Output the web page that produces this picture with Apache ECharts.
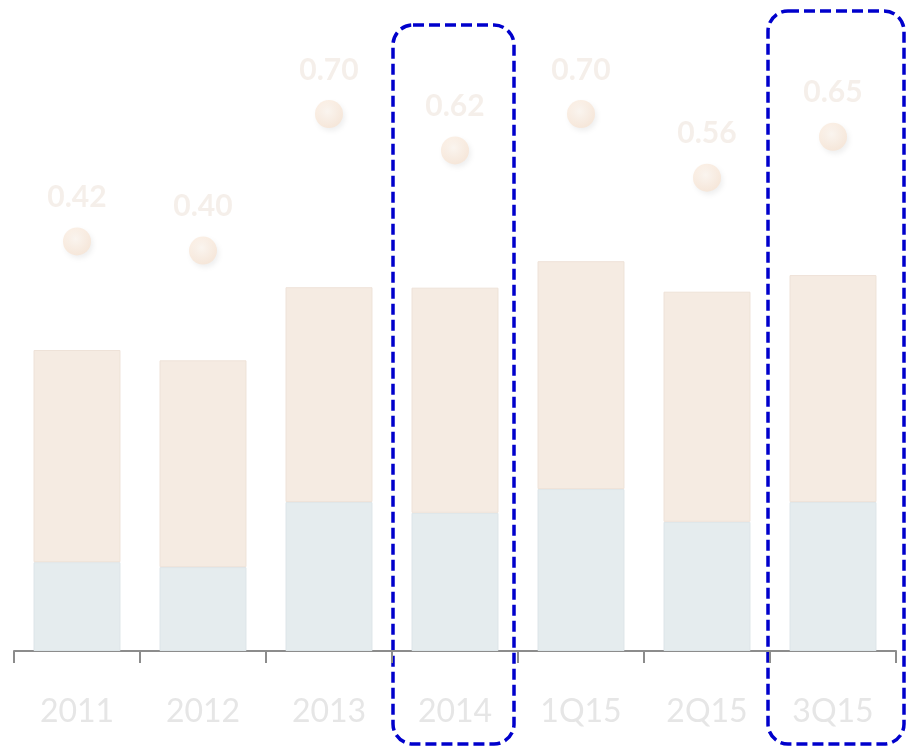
<!DOCTYPE html>
<html>
<head>
<meta charset="utf-8">
<script src="https://cdn.jsdelivr.net/npm/echarts@6/dist/echarts.min.js"></script>
<style>
html,body{margin:0;padding:0;background:#fff;}
#chart{width:906px;height:746px;}
</style>
</head>
<body>
<div id="chart"></div>
<script>
var categories = ['2011', '2012', '2013', '2014', '1Q15', '2Q15', '3Q15'];
var bottomValues = [1.98, 1.87, 3.32, 3.08, 3.61, 2.88, 3.32];
var topValues = [4.73, 4.61, 4.79, 5.02, 5.08, 5.13, 5.06];
var ratioValues = [0.42, 0.40, 0.70, 0.62, 0.70, 0.56, 0.65];
var ratioLabels = ['0.42', '0.40', '0.70', '0.62', '0.70', '0.56', '0.65'];

var chart = echarts.init(document.getElementById('chart'));
chart.setOption({
  animation: false,
  backgroundColor: '#ffffff',
  grid: { left: 14, right: 10, top: 23, bottom: 95 },
  xAxis: {
    type: 'category',
    data: categories,
    axisLine: { show: true, lineStyle: { color: '#8c8c8c', width: 2 } },
    axisTick: { show: true, length: 12, lineStyle: { color: '#8c8c8c', width: 2 } },
    axisLabel: {
      color: '#e6e6e6', fontFamily: 'Lato', fontSize: 32, margin: 45, lineHeight: 32
    }
  },
  yAxis: [
    { type: 'value', min: 0, max: 14, show: false, splitLine: { show: false } },
    { type: 'value', min: -0.48, max: 0.9, show: false, splitLine: { show: false } }
  ],
  series: [
    {
      type: 'bar', stack: 'total', barWidth: '69%', data: bottomValues,
      itemStyle: { color: '#e5ecee', borderColor: '#dde5e8', borderWidth: 1 }
    },
    {
      type: 'bar', stack: 'total', barWidth: '69%', data: topValues,
      itemStyle: { color: '#f5ebe2', borderColor: '#eee2d8', borderWidth: 1 }
    },
    {
      type: 'scatter', yAxisIndex: 1, data: ratioValues, symbolSize: 28,
      itemStyle: {
        color: {
          type: 'radial', x: 0.45, y: 0.4, r: 0.7,
          colorStops: [{ offset: 0, color: '#fdf6ef' }, { offset: 1, color: '#f6e1cf' }]
        },
        shadowBlur: 5, shadowColor: 'rgba(0,0,0,0.08)', shadowOffsetX: 2, shadowOffsetY: 3
      },
      label: {
        show: true, position: 'top', distance: 15,
        formatter: function (p) { return ratioLabels[p.dataIndex]; },
        color: '#f3ebe5', fontFamily: 'Lato', fontWeight: 'bold', fontSize: 30
      }
    }
  ],
  graphic: [
    {
      type: 'rect', silent: true,
      shape: { x: 393, y: 25, width: 121, height: 719, r: 20 },
      style: { fill: null, stroke: '#0000cc', lineWidth: 3.5, lineDash: [11, 5] }
    },
    {
      type: 'rect', silent: true,
      shape: { x: 768, y: 11, width: 136, height: 733, r: 20 },
      style: { fill: null, stroke: '#0000cc', lineWidth: 3.5, lineDash: [11, 5] }
    }
  ]
});
</script>
</body>
</html>
